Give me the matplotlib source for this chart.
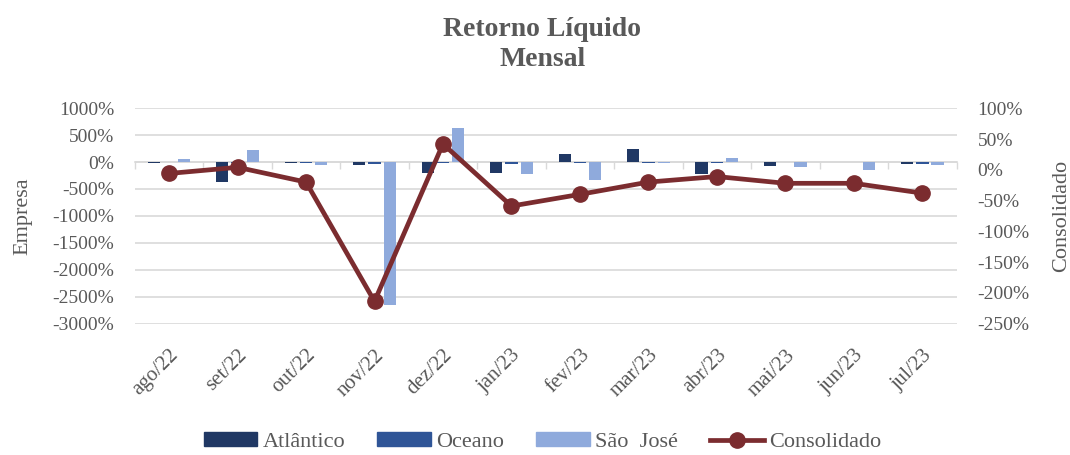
import numpy as np
import matplotlib
matplotlib.use("Agg")
import matplotlib.pyplot as plt
from matplotlib.ticker import FuncFormatter
from matplotlib.lines import Line2D
from matplotlib.patches import Patch

# Daten (Werte in %)
meses = ["ago/22", "set/22", "out/22", "nov/22", "dez/22", "jan/23",
         "fev/23", "mar/23", "abr/23", "mai/23", "jun/23", "jul/23"]
atlantico = [-10, -375, -20, -60, -210, -200, 145, 240, -230, -75, 0, -30]
oceano = [0, -10, -20, -35, -10, -40, -15, -10, -10, 0, 0, -30]
sao_jose = [50, 225, -45, -2665, 630, -230, -325, -10, 80, -90, -150, -60]
consolidado = [-6, 4, -20, -214, 42, -59, -40, -20, -11, -22, -22, -38]

cor_atl = "#203864"
cor_oce = "#2F5597"
cor_sj = "#8FAADC"
cor_cons = "#7B2C2F"
cinza = "#595959"

plt.rcParams["font.family"] = ["Liberation Serif", "DejaVu Serif"]

fig = plt.figure(figsize=(10.7, 4.55), dpi=100)
ax = fig.add_axes([0.126, 0.289, 0.768, 0.473])
x = np.arange(len(meses))
w = 0.18
d = 0.223

ax.bar(x - d, atlantico, w, color=cor_atl, zorder=2)
ax.bar(x, oceano, w, color=cor_oce, zorder=2)
ax.bar(x + d, sao_jose, w, color=cor_sj, zorder=2)

ax.set_ylim(-3000, 1000)
ax.set_yticks(np.arange(-3000, 1001, 500))
ax.yaxis.set_major_formatter(FuncFormatter(lambda v, p: f"{v:.0f}%"))
ax.set_xlim(-0.5, len(meses) - 0.5)
ax.set_xticks(x)
ax.set_xticklabels(meses, rotation=45, ha="right", rotation_mode="anchor")
ax.tick_params(axis="x", length=0, pad=16, labelsize=15, labelcolor=cinza)
ax.tick_params(axis="y", length=0, pad=15, labelsize=14, labelcolor=cinza)
ax.grid(axis="y", color="#D9D9D9", linewidth=1.2, zorder=0)
for s in ax.spines.values():
    s.set_visible(False)
ax.set_ylabel("Empresa", fontsize=16, color=cinza, labelpad=14)

# Achse bei 0 mit Kategorie-Trennstrichen
sec = ax.secondary_xaxis(0.75)
sec.set_xticks(np.arange(-0.5, len(meses), 1.0))
sec.set_xticklabels([])
sec.tick_params(axis="x", direction="in", length=5, width=1, color="#D9D9D9",
                labelbottom=False, labeltop=False)
for s in sec.spines.values():
    s.set_color("#D9D9D9")
    s.set_linewidth(1.2)

ax2 = ax.twinx()
ax2.plot(x, consolidado, color=cor_cons, linewidth=3.4, marker="o",
         markersize=11, zorder=3)
ax2.set_ylim(-250, 100)
ax2.set_yticks(np.arange(-250, 101, 50))
ax2.yaxis.set_major_formatter(FuncFormatter(lambda v, p: f"{v:.0f}%"))
ax2.tick_params(axis="y", length=0, pad=15, labelsize=14, labelcolor=cinza)
for s in ax2.spines.values():
    s.set_visible(False)
ax2.set_ylabel("Consolidado", fontsize=16, color=cinza, labelpad=16)

fig.text(0.507, 0.962, "Retorno Líquido\nMensal", ha="center", va="top",
         fontsize=20, fontweight="bold", color=cinza, linespacing=1.25)

handles = [Patch(color=cor_atl), Patch(color=cor_oce), Patch(color=cor_sj),
           Line2D([0], [0], color=cor_cons, linewidth=3.4, marker="o", markersize=11)]
labels = ["Atlântico", "Oceano", "São  José", "Consolidado"]
leg = fig.legend(handles, labels, loc="center", bbox_to_anchor=(0.507, 0.028),
                 ncol=4, frameon=False, fontsize=16, handlelength=2.4,
                 handleheight=0.55, handletextpad=0.25, columnspacing=1.45)
for t in leg.get_texts():
    t.set_color(cinza)

fig.savefig("out.png", dpi=100)
